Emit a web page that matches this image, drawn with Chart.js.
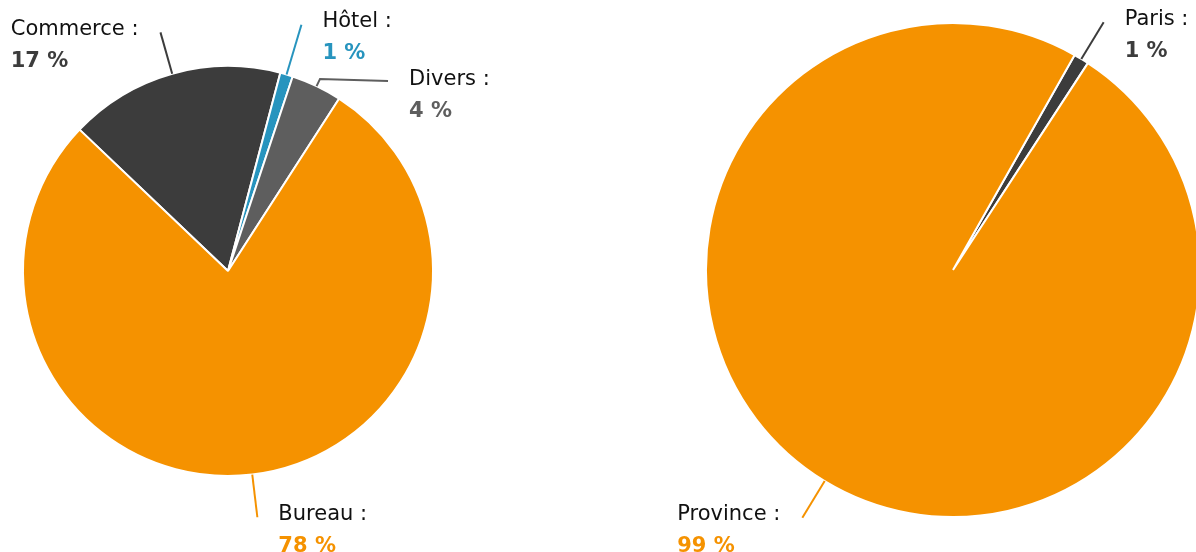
<!DOCTYPE html>
<html>
<head>
<meta charset="utf-8">
<script src="https://cdn.jsdelivr.net/npm/chart.js@4.4.1/dist/chart.umd.min.js"></script>
<style>
  html, body { margin: 0; padding: 0; background: #fff; }
  .wrap { position: absolute; top: 0; width: 598px; height: 552px; }
  #left { left: 0; }
  #right { left: 598px; }
</style>
</head>
<body>
<div class="wrap" id="left"><canvas id="pieLeft"></canvas></div>
<div class="wrap" id="right"><canvas id="pieRight"></canvas></div>
<script>
// répartition par type d'actif
const leftLabels = ['Commerce', 'Hôtel', 'Divers', 'Bureau'];
const leftValues = [17, 1, 4, 78];
const leftColors = ['#3c3c3c', '#2794be', '#5e5e5e', '#f59200'];

// répartition géographique
const rightLabels = ['Paris', 'Province'];
const rightValues = [1, 99];
const rightColors = ['#3c3c3c', '#f59200'];

const FONT = '"DejaVu Sans", sans-serif';

// étiquettes avec trait de rappel
const calloutPlugin = {
	id: 'callout',
	afterDraw(chart, args, opts) {
		const ctx = chart.ctx;
		const meta = chart.getDatasetMeta(0);
		const values = chart.data.datasets[0].data;
		const colors = chart.data.datasets[0].backgroundColor;
		const total = values.reduce((a, b) => a + b, 0);
		meta.data.forEach((arc, i) => {
			const { x, y, startAngle, endAngle, outerRadius } = arc.getProps(['x', 'y', 'startAngle', 'endAngle', 'outerRadius'], true);
			const a = (startAngle + endAngle) / 2;
			const ext = (opts.ext && opts.ext[i] != null) ? opts.ext[i] : 43;
			const hook = (opts.hook && opts.hook[i]) || 0;
			const x0 = x + Math.cos(a) * outerRadius;
			const y0 = y + Math.sin(a) * outerRadius;
			const x1 = x + Math.cos(a) * (outerRadius + ext);
			const y1 = y + Math.sin(a) * (outerRadius + ext);
			const right = Math.cos(a) >= 0;
			const x2 = x1 + (right ? hook : -hook);
			const y2 = hook ? y1 + 2 : y1;

			ctx.save();
			ctx.strokeStyle = colors[i];
			ctx.lineWidth = 2;
			ctx.beginPath();
			ctx.moveTo(x0, y0);
			ctx.lineTo(x1, y1);
			if (hook) ctx.lineTo(x2, y2);
			ctx.stroke();

			const line1 = chart.data.labels[i] + ' :';
			const line2 = Math.round(values[i] / total * 100) + ' %';
			ctx.textBaseline = 'middle';
			ctx.textAlign = 'left';
			ctx.font = '21px ' + FONT;
			const w = ctx.measureText(line1).width;
			const tx = right ? x2 + 21 : x2 - 22 - w;
			const ty = y2 - (hook ? 1 : 3);
			ctx.fillStyle = '#111';
			ctx.fillText(line1, tx, ty);
			ctx.font = 'bold 21px ' + FONT;
			ctx.fillStyle = colors[i];
			ctx.fillText(line2, tx, ty + 32);
			ctx.restore();
		});
	}
};

function makePie(id, labels, values, colors, rotation, radius, padding, callout) {
	const ctx = document.getElementById(id).getContext('2d');
	return new Chart(ctx, {
		type: 'pie',
		data: {
			labels: labels,
			datasets: [{
				data: values,
				backgroundColor: colors,
				borderColor: '#ffffff',
				borderWidth: 2,
			}],
		},
		options: {
			responsive: true,
			maintainAspectRatio: false,
			animation: false,
			devicePixelRatio: 1,
			rotation: rotation,
			radius: radius,
			layout: { padding: padding },
			plugins: {
				legend: { display: false },
				tooltip: { enabled: false },
				callout: callout,
			},
		},
		plugins: [calloutPlugin],
	});
}

makePie('pieLeft', leftLabels, leftValues, leftColors, -46.4, 205,
	{ left: 0, right: 142, top: 0, bottom: 10 },
	{ ext: [43, 52, 8, 43], hook: [0, 0, 68, 0] });

makePie('pieRight', rightLabels, rightValues, rightColors, 29.5, 247,
	{ left: 112, right: 0, top: 0, bottom: 12 },
	{ ext: [43, 43], hook: [0, 0] });
</script>
</body>
</html>
